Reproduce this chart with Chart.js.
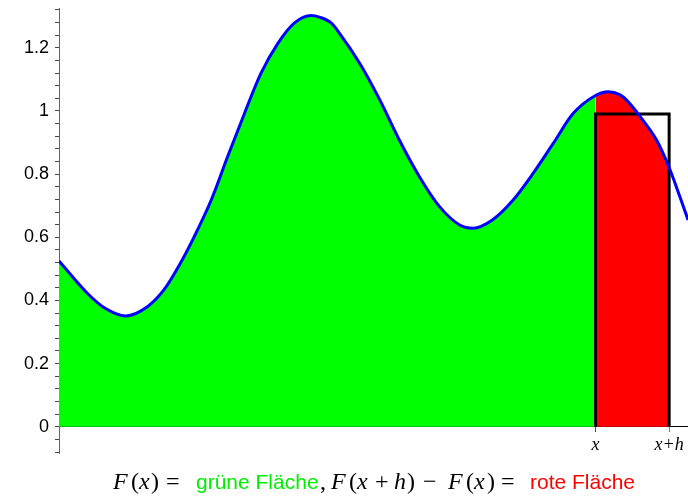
<!DOCTYPE html>
<html>
<head>
<meta charset="utf-8">
<script src="https://cdn.jsdelivr.net/npm/chart.js@4/dist/chart.umd.min.js"></script>
<style>
  html, body { margin: 0; padding: 0; background: #fff; }
</style>
</head>
<body>
<canvas id="graph" width="688" height="496"></canvas>
<script>
// ========== DONNÉES ==========
const curveX = [0, 0.45, 0.72, 1.06, 1.41, 1.67, 1.93, 2.15, 2.42, 2.68, 2.95, 3.21, 3.48, 3.74,
  4.01, 4.14, 4.33, 4.46, 4.78, 5.10, 5.41, 5.73, 6.05, 6.37, 6.58, 6.89, 7.22, 7.54, 7.86,
  8.17, 8.53, 8.73, 8.92, 9.02, 9.24, 9.50, 9.70, 9.87, 10.0];
const curveY = [0.525, 0.423, 0.377, 0.351, 0.381, 0.434, 0.518, 0.602, 0.718, 0.855, 0.993, 1.119, 1.214, 1.278,
  1.302, 1.297, 1.278, 1.246, 1.151, 1.035, 0.908, 0.792, 0.697, 0.639, 0.629, 0.655, 0.718, 0.803, 0.898,
  0.991, 1.049, 1.061, 1.051, 1.035, 0.982, 0.908, 0.821, 0.729, 0.655];

const xPos = 8.53;      // x
const hWidth = 1.17;    // h
const rectHeight = 0.99;

const xTickValues = [xPos, xPos + hWidth];
const xTickLabels = ["x", "x+h"];
const xTickColors = ["#ff0000", "#00dd00"];
const yTickLabels = ["0", "0.2", "0.4", "0.6", "0.8", "1", "1.2"];

// légende sous le graphique
const captionText = ["F", "(", "x", ")", "=", "grüne Fläche", ",", "F", "(", "x", "+", "h", ")", "\u2212", "F", "(", "x", ")", "=", "rote Fläche"];
const captionKind = ["mi", "mr", "mi", "mr", "mr", "green", "mr", "mi", "mr", "mi", "mr", "mi", "mr", "mr", "mi", "mr", "mi", "mr", "mr", "red"];

// ========== STYLES ==========
const GREEN = "#00ff00";
const RED = "#ff0000";
const BLUE = "#0000ff";

const captionStyles = {
  mi: { font: "italic 24px 'Liberation Serif'", color: "#000" },
  mr: { font: "24px 'Liberation Serif'", color: "#000" },
  green: { font: "21px 'Liberation Sans'", color: "#00ee00" },
  red: { font: "21px 'Liberation Sans'", color: RED },
};
// position horizontale (px) de chaque morceau de la légende
const captionAt = [113, 131, 139, 151, 166, 196, 320, 331, 349, 357, 375, 394, 407, 423, 448, 466, 474, 487, 501, 530];
const captionBaseline = 489;

const points = curveX.map((x, i) => ({ x, y: curveY[i] }));
const rectPoints = [
  { x: xPos, y: 0 },
  { x: xPos, y: rectHeight },
  { x: xPos + hWidth, y: rectHeight },
  { x: xPos + hWidth, y: 0 },
];

function fillColor(ctx) {
  const x0 = ctx.p0.parsed.x;
  if (x0 < xPos - 1e-9) return GREEN;
  if (x0 < xPos + hWidth - 1e-9) return RED;
  return "rgba(0,0,0,0)";
}

// ========== LÉGENDE ==========
const captionPlugin = {
  id: "caption",
  afterDraw(chart) {
    const ctx = chart.ctx;
    ctx.save();
    ctx.textBaseline = "alphabetic";
    ctx.textAlign = "left";
    captionText.forEach((t, i) => {
      const st = captionStyles[captionKind[i]];
      ctx.font = st.font;
      ctx.fillStyle = st.color;
      ctx.fillText(t, captionAt[i], captionBaseline);
    });
    ctx.restore();
  },
};

// ========== GRAPHIQUE ==========
new Chart(document.getElementById("graph"), {
  type: "line",
  data: {
    datasets: [
      {
        data: points,
        borderWidth: 0,
        borderColor: "rgba(0,0,0,0)",
        pointRadius: 0,
        cubicInterpolationMode: "monotone",
        fill: "origin",
        backgroundColor: GREEN,
        segment: { backgroundColor: fillColor },
        order: 3,
      },
      {
        data: rectPoints,
        borderColor: "#000",
        borderWidth: 3,
        pointRadius: 0,
        tension: 0,
        fill: false,
        borderJoinStyle: "miter",
        order: 2,
      },
      {
        data: points,
        borderColor: BLUE,
        borderWidth: 3,
        pointRadius: 0,
        cubicInterpolationMode: "monotone",
        fill: false,
        order: 1,
      },
    ],
  },
  options: {
    responsive: false,
    devicePixelRatio: 1,
    animation: false,
    layout: { padding: { top: 8, right: 0, bottom: 43, left: 0 } },
    plugins: { legend: { display: false }, tooltip: { enabled: false }, title: { display: false } },
    scales: {
      x: {
        type: "linear",
        min: 0,
        max: 10,
        position: { y: 0 },
        afterBuildTicks: (s) => { s.ticks = xTickValues.map((v) => ({ value: v })); },
        ticks: {
          autoSkip: false,
          maxRotation: 0,
          minRotation: 0,
          padding: 3,
          color: "#000",
          font: { family: "'Liberation Serif'", size: 18, style: "italic" },
          callback: (v, i) => xTickLabels[i],
        },
        grid: {
          drawOnChartArea: false,
          tickLength: 5,
          tickColor: (c) => xTickColors[c.index],
        },
        border: { color: "#000", width: 1 },
      },
      y: {
        type: "linear",
        min: -0.083,
        max: 1.326,
        afterFit: (s) => { s.width = 59; s.paddingTop = 0; s.paddingBottom = 0; },
        ticks: {
          stepSize: 0.04,
          includeBounds: false,
          autoSkip: false,
          padding: 6,
          color: "#000",
          font: { family: "'Liberation Sans'", size: 18 },
          callback: (v) => {
            const k = Math.round(v / 0.2);
            return Math.abs(v - k * 0.2) < 1e-6 && k >= 0 ? yTickLabels[k] : "";
          },
        },
        grid: { drawOnChartArea: false, tickLength: 4, tickColor: "#444" },
        border: { color: "#666", width: 1 },
      },
    },
  },
  plugins: [captionPlugin],
});
</script>
</body>
</html>
